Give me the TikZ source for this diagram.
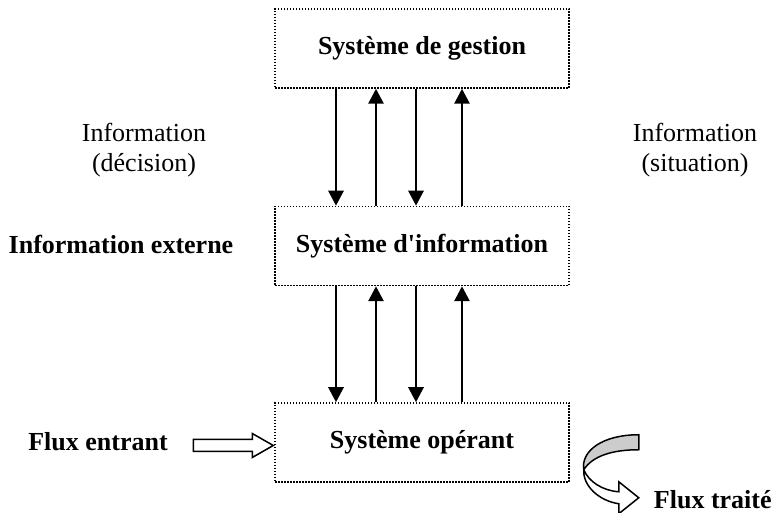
\documentclass[tikz,border=0pt]{standalone}
\usepackage{fontspec}
\setmainfont{Liberation Serif}
\usetikzlibrary{calc, positioning, arrows.meta}

\tikzset{
  texte/.style={font=\fontsize{26}{30}\selectfont, align=center},
  gras/.style={font=\fontsize{26}{30}\selectfont\bfseries},
  systeme/.style={gras, draw, line width=1.5pt, dash pattern=on 1.5pt off 1.5pt,
    minimum width=294pt, minimum height=79pt, inner sep=0pt},
  fleche/.style={line width=2.8pt, -{Triangle[width=15pt, length=15pt]}},
  creux/.style={draw, line width=1.5pt, fill=white, line join=miter},
}

\begin{document}
\begin{tikzpicture}[x=1pt, y=1pt]
  \useasboundingbox (0,0) rectangle (777,513);

  % --- boites ---
  \node[systeme] (gestion) at (422,464.5) {Système de gestion};
  \node[systeme, below=117pt of gestion] (info) {Système d\textquotesingle information};
  \node[systeme, below=116pt of info] (operant) {Système opérant};

  % --- fleches verticales ---
  \foreach \dx in {-86,-6} {
    \draw[fleche] ([xshift=\dx pt]gestion.south) -- ([xshift=\dx pt]info.north);
    \draw[fleche] ([xshift=\dx pt]info.south) -- ([xshift=\dx pt]operant.north);
  }
  \foreach \dx in {-46,40} {
    \draw[fleche] ([xshift=\dx pt]info.north) -- ([xshift=\dx pt]gestion.south);
    \draw[fleche] ([xshift=\dx pt]operant.north) -- ([xshift=\dx pt]info.south);
  }

  % --- etiquettes ---
  \node[texte] (decision) at (144,363) {Information\\(décision)};
  \node[texte] (situation) at (695,363) {Information\\(situation)};
  \node[gras] (externe) at (121,269) {Information externe};
  \node[gras] (entrant) at (98,71) {Flux entrant};

  % --- flux entrant ---
  \draw[creux, shift={($(operant.west)+(-1,-3)$)}]
    (-80,-6) -- (-21,-6) -- (-21,-12) -- (0,0) -- (-21,12) -- (-21,6) -- (-80,6) -- cycle;

  % --- flux traite ---
  \begin{scope}[shift={(operant.south east)}]
    \draw[creux, fill=gray!40] (69,48) .. controls (33,48) and (11,32) .. (14,13)
      .. controls (23,27) and (43,33) .. (69,33) -- cycle;
    \draw[creux] (14,13) .. controls (13,-3) and (29,-18) .. (49,-21)
      -- (49,-31) -- (69,-15) -- (49,1) -- (49,-9)
      .. controls (33,-8) and (19,1) .. (14,13);
    \coordinate (pointe) at (69,-15);
  \end{scope}
  \node[gras, anchor=west, inner sep=0pt] (traite) at ([shift={(15,-2)}]pointe) {Flux traité};
\end{tikzpicture}
\end{document}
